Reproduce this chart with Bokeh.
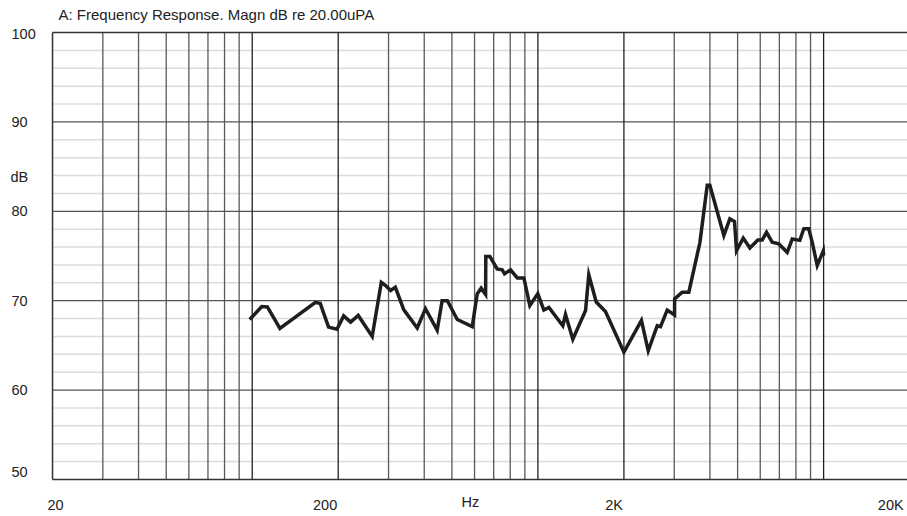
from bokeh.plotting import figure
from bokeh.models import Label, Range1d
from bokeh.embed import file_html
from bokeh.resources import INLINE

# ---- data ----
freq_hz = [98, 108, 113, 125, 166, 173, 185, 198, 209, 221, 235, 263, 283, 293, 305, 317,
           339, 378, 404, 444, 462, 482, 522, 589, 613, 633, 656, 657, 679, 720, 750, 764,
           802, 847, 893, 937, 999, 1049, 1093, 1222, 1249, 1325, 1468, 1507, 1600, 1724,
           2000, 2303, 2433, 2616, 2686, 2835, 3007, 3010, 3199, 3375, 3689, 3914, 3998,
           4475, 4696, 4877, 4956, 5233, 5518, 5886, 6096, 6312, 6608, 6972, 7457, 7765,
           8256, 8525, 8872, 9120, 9498, 9971, 10000]
level_db = [67.9, 69.35, 69.3, 66.9, 69.8, 69.7, 67.05, 66.8, 68.3, 67.6, 68.35, 66.0, 72.05,
            71.7, 71.15, 71.5, 69.0, 66.95, 69.1, 66.7, 70.0, 70.0, 67.9, 67.1, 70.75, 71.4,
            70.7, 74.95, 74.95, 73.55, 73.45, 73.0, 73.45, 72.55, 72.55, 69.45, 70.8, 68.95,
            69.25, 67.2, 68.45, 65.7, 68.9, 72.9, 69.85, 68.8, 64.25, 67.8, 64.4, 67.2, 67.1,
            68.95, 68.4, 70.2, 70.95, 70.95, 76.5, 82.9, 82.9, 77.3, 79.15, 78.85, 75.6, 77.0,
            75.9, 76.8, 76.8, 77.65, 76.55, 76.35, 75.4, 76.9, 76.75, 78.05, 78.05, 76.55,
            73.95, 75.55, 75.05]

title_text = "A: Frequency Response. Magn dB re 20.00uPA"
y_label_text = "dB"
x_label_text = "Hz"
x_min, x_max = 20, 20000
y_min, y_max = 50, 100
y_ticks = [50, 60, 70, 80, 90, 100]
y_tick_labels = ["50", "60", "70", "80", "90", "100"]
x_ticks = [20, 200, 2000, 20000]
x_tick_labels = ["20", "200", "2K", "20K"]
y_major_grid = [60, 70, 80, 90]
y_minor_grid = [52, 54, 56, 58, 62, 64, 66, 68, 72, 74, 76, 78, 82, 84, 86, 88, 92, 94, 96, 98]
x_grid_dark = [100, 200, 1000, 2000, 10000]
x_grid_gray = [30, 40, 50, 60, 70, 80, 90, 300, 400, 500, 600, 700, 800, 900,
               3000, 4000, 5000, 6000, 7000, 8000, 9000]

FONT = "Liberation Sans"
FS = "14.5px"
TXT = "#222222"

# frame fills the canvas; ranges chosen so 20 Hz..20 kHz / 50..100 dB sit where the plot box is
p = figure(width=907, height=516, x_axis_type="log",
           x_axis_location=None, y_axis_location=None, title_location=None,
           x_range=Range1d(13.15, 19661), y_range=Range1d(45.86, 103.58),
           output_backend="svg", toolbar_location=None,
           min_border_left=0, min_border_right=0, min_border_top=0, min_border_bottom=0)
p.grid.visible = False
p.background_fill_color = "white"
p.border_fill_color = "white"
p.outline_line_color = None

n = len(y_minor_grid)
p.segment(x0=[x_min] * n, x1=[x_max] * n, y0=y_minor_grid, y1=y_minor_grid,
          line_color="#dcdcdc", line_width=1.5)
n = len(x_grid_gray)
p.segment(x0=x_grid_gray, x1=x_grid_gray, y0=[y_min] * n, y1=[y_max] * n,
          line_color="#5a5a5a", line_width=1.3)
n = len(y_major_grid)
p.segment(x0=[x_min] * n, x1=[x_max] * n, y0=y_major_grid, y1=y_major_grid,
          line_color="#555555", line_width=1.2)
n = len(x_grid_dark)
p.segment(x0=x_grid_dark, x1=x_grid_dark, y0=[y_min] * n, y1=[y_max] * n,
          line_color="#222222", line_width=1.3)
# plot box border
p.segment(x0=[x_min, x_min], x1=[x_max, x_max], y0=[y_min, y_max], y1=[y_min, y_max],
          line_color="#333333", line_width=1.5)
p.segment(x0=[x_min], x1=[x_min], y0=[y_min], y1=[y_max], line_color="#333333", line_width=1.5)

p.line(freq_hz, level_db, line_color="#1e1e1e", line_width=3.5, line_join="miter")

# title
p.add_layout(Label(x=x_min, y=y_max, x_offset=6, y_offset=18, text=title_text,
                   text_font=FONT, text_font_size="15px", text_color=TXT,
                   text_align="left", text_baseline="middle"))
# y tick labels
y_offsets = {50: 7, 100: -1}
for v, t in zip(y_ticks, y_tick_labels):
    p.add_layout(Label(x=x_min, y=v, x_offset=-41, y_offset=y_offsets.get(v, 0), text=t,
                       text_font=FONT, text_font_size=FS, text_color=TXT,
                       text_align="left", text_baseline="middle"))
p.add_layout(Label(x=x_min, y=83.8, x_offset=-42, text=y_label_text,
                   text_font=FONT, text_font_size=FS, text_color=TXT,
                   text_align="left", text_baseline="middle"))
# x tick labels
for v, t in zip(x_ticks, x_tick_labels):
    if v == x_min:
        align, xo = "left", -5
    elif v == x_max:
        align, xo = "right", -6
    else:
        align, xo = "right", -1
    p.add_layout(Label(x=v, y=y_min, x_offset=xo, y_offset=-26, text=t,
                       text_font=FONT, text_font_size=FS, text_color=TXT,
                       text_align=align, text_baseline="middle"))
p.add_layout(Label(x=580, y=y_min, y_offset=-23, text=x_label_text,
                   text_font=FONT, text_font_size=FS, text_color=TXT,
                   text_align="center", text_baseline="middle"))

open("out.html", "w").write(file_html(p, INLINE))
